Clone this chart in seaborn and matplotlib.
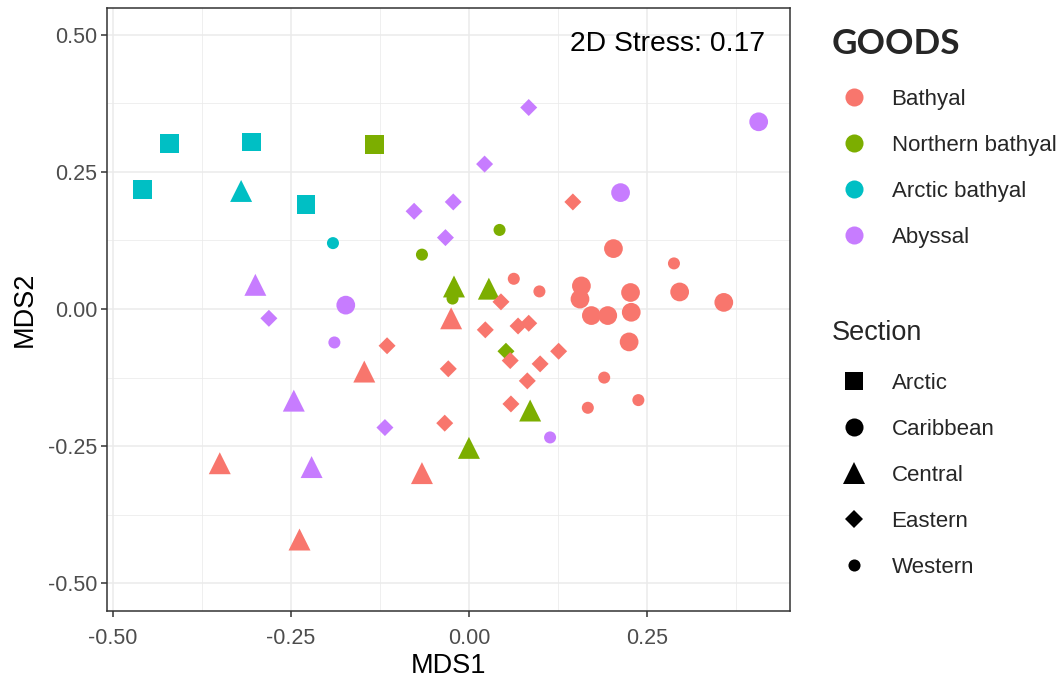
import matplotlib
matplotlib.use("Agg")
import matplotlib.pyplot as plt
from matplotlib.lines import Line2D
from matplotlib.ticker import MultipleLocator
import seaborn as sns
import pandas as pd

# ---- data ----
goods_order = ["Bathyal", "Northern bathyal", "Arctic bathyal", "Abyssal"]
section_order = ["Arctic", "Caribbean", "Central", "Eastern", "Western"]
palette = {"Bathyal": "#F8766D", "Northern bathyal": "#7CAE00",
           "Arctic bathyal": "#00BFC4", "Abyssal": "#C77CFF"}

# Northern bathyal
nb_goods = ["Northern bathyal"] * 9
nb_section = ["Arctic", "Western", "Western", "Western", "Central", "Central", "Central", "Central", "Eastern"]
nb_x = [-0.133, 0.043, -0.066, -0.023, -0.021, 0.028, 0.086, 0.000, 0.052]
nb_y = [0.300, 0.144, 0.099, 0.019, 0.041, 0.037, -0.185, -0.253, -0.077]

# Arctic bathyal
ab_goods = ["Arctic bathyal"] * 6
ab_section = ["Arctic", "Arctic", "Arctic", "Arctic", "Central", "Western"]
ab_x = [-0.421, -0.305, -0.459, -0.229, -0.320, -0.191]
ab_y = [0.302, 0.304, 0.217, 0.190, 0.215, 0.120]

# Abyssal
ay_goods = ["Abyssal"] * 15
ay_section = ["Eastern"] * 7 + ["Caribbean"] * 3 + ["Central"] * 3 + ["Western"] * 2
ay_x = [0.084, 0.022, -0.077, -0.022, -0.033, -0.281, -0.118,
        0.407, 0.213, -0.173,
        -0.300, -0.246, -0.221,
        -0.189, 0.114]
ay_y = [0.367, 0.264, 0.178, 0.195, 0.130, -0.017, -0.216,
        0.341, 0.212, 0.007,
        0.044, -0.167, -0.288,
        -0.061, -0.234]

# Bathyal
ba_goods = ["Bathyal"] * 34
ba_section = ["Caribbean"] * 10 + ["Western"] * 6 + ["Eastern"] * 13 + ["Central"] * 5
ba_x = [0.203, 0.158, 0.156, 0.227, 0.296, 0.358, 0.172, 0.195, 0.228, 0.225,
        0.288, 0.063, 0.099, 0.190, 0.238, 0.167,
        0.146, 0.045, 0.023, 0.069, 0.084, -0.115, -0.029, 0.058, 0.100, 0.126, 0.082, 0.059, -0.034,
        -0.025, -0.147, -0.350, -0.066, -0.238]
ba_y = [0.110, 0.042, 0.018, 0.030, 0.031, 0.012, -0.012, -0.012, -0.006, -0.060,
        0.083, 0.055, 0.032, -0.125, -0.166, -0.180,
        0.195, 0.013, -0.038, -0.031, -0.026, -0.067, -0.109, -0.094, -0.100, -0.077, -0.131, -0.173, -0.208,
        -0.017, -0.114, -0.281, -0.299, -0.420]

stress_label = "2D Stress: 0.17"

df = pd.DataFrame({
    "MDS1": nb_x + ab_x + ay_x + ba_x,
    "MDS2": nb_y + ab_y + ay_y + ba_y,
    "GOODS": nb_goods + ab_goods + ay_goods + ba_goods,
    "Section": nb_section + ab_section + ay_section + ba_section,
})

# ---- style ----
markers = {"Arctic": "s", "Caribbean": "o", "Central": "^", "Eastern": "D", "Western": "o"}
sizes = {"Arctic": 182, "Caribbean": 182, "Central": 250, "Eastern": 75, "Western": 75}

sns.set_theme(style="white")
plt.rcParams["font.family"] = ["Liberation Sans", "DejaVu Sans"]

fig = plt.figure(figsize=(10.58, 6.82), dpi=100)
W, H = 1058, 682
ax = fig.add_axes([107 / W, 1 - 611 / H, (790 - 107) / W, (611 - 8) / H])

sns.scatterplot(data=df, x="MDS1", y="MDS2", hue="GOODS", hue_order=goods_order,
                style="Section", style_order=section_order, markers=markers,
                size="Section", sizes=sizes, palette=palette,
                linewidth=0, edgecolor="none", alpha=1, legend=False, ax=ax, zorder=3)

ax.set_xlim(-0.5084, 0.451)
ax.set_ylim(-0.5502, 0.5483)
ax.xaxis.set_minor_locator(MultipleLocator(0.125))
ax.yaxis.set_minor_locator(MultipleLocator(0.125))
ax.set_xticks([-0.5, -0.25, 0.0, 0.25])
ax.set_xticklabels(["-0.50", "-0.25", "0.00", "0.25"])
ax.set_yticks([-0.5, -0.25, 0.0, 0.25, 0.5])
ax.set_yticklabels(["-0.50", "-0.25", "0.00", "0.25", "0.50"])

ax.grid(True, which="major", color="#EBEBEB", linewidth=1.1, zorder=0)
ax.grid(True, which="minor", color="#EBEBEB", linewidth=0.55, zorder=0)
ax.set_axisbelow(True)
for sp in ax.spines.values():
    sp.set_color("#333333")
    sp.set_linewidth(1.1)
ax.tick_params(axis="both", which="major", direction="out", length=4, width=1.1,
               color="#333333", labelcolor="#4D4D4D", labelsize=15.5, pad=3, bottom=True, left=True)
ax.tick_params(axis="x", which="major", pad=8)
ax.tick_params(axis="both", which="minor", length=0)

ax.set_xlabel("MDS1", fontsize=19.5, color="black", labelpad=3)
ax.set_ylabel("MDS2", fontsize=19.5, color="black", labelpad=7)

ax.text(0.963, 0.962, stress_label, transform=ax.transAxes, ha="right", va="top",
        fontsize=20.3, color="black")

# ---- legends ----
goods_handles = [Line2D([0], [0], marker="o", linestyle="none", markersize=13,
                        markerfacecolor=palette[g], markeredgewidth=0, label=g) for g in goods_order]
sec_ms = {"Arctic": 13, "Caribbean": 13, "Central": 15.5, "Eastern": 8.7, "Western": 8.7}
sec_handles = [Line2D([0], [0], marker=markers[s], linestyle="none", markersize=sec_ms[s],
                      markerfacecolor="black", markeredgewidth=0, label=s) for s in section_order]

leg1 = fig.legend(handles=goods_handles, title="GOODS", loc="upper left",
                  bbox_to_anchor=(832 / W, 1 - 28 / H), frameon=False, fontsize=16,
                  handlelength=2.0, handletextpad=0.68, labelspacing=1.12, borderpad=0,
                  borderaxespad=0,
                  title_fontproperties={"family": "Lato", "weight": "bold", "size": 25.3})
leg1._legend_box.align = "left"
leg1._legend_box.sep = 1.12 * 16 + 3.0

leg2 = fig.legend(handles=sec_handles, title="Section", loc="upper left",
                  bbox_to_anchor=(832 / W, 1 - 320 / H), frameon=False, fontsize=16,
                  handlelength=2.0, handletextpad=0.68, labelspacing=1.125, borderpad=0,
                  borderaxespad=0,
                  title_fontproperties={"family": ["Liberation Sans"], "size": 19.5})
leg2._legend_box.align = "left"
leg2._legend_box.sep = 1.17 * 16 + 0.8

fig.savefig("out.png", dpi=100)
